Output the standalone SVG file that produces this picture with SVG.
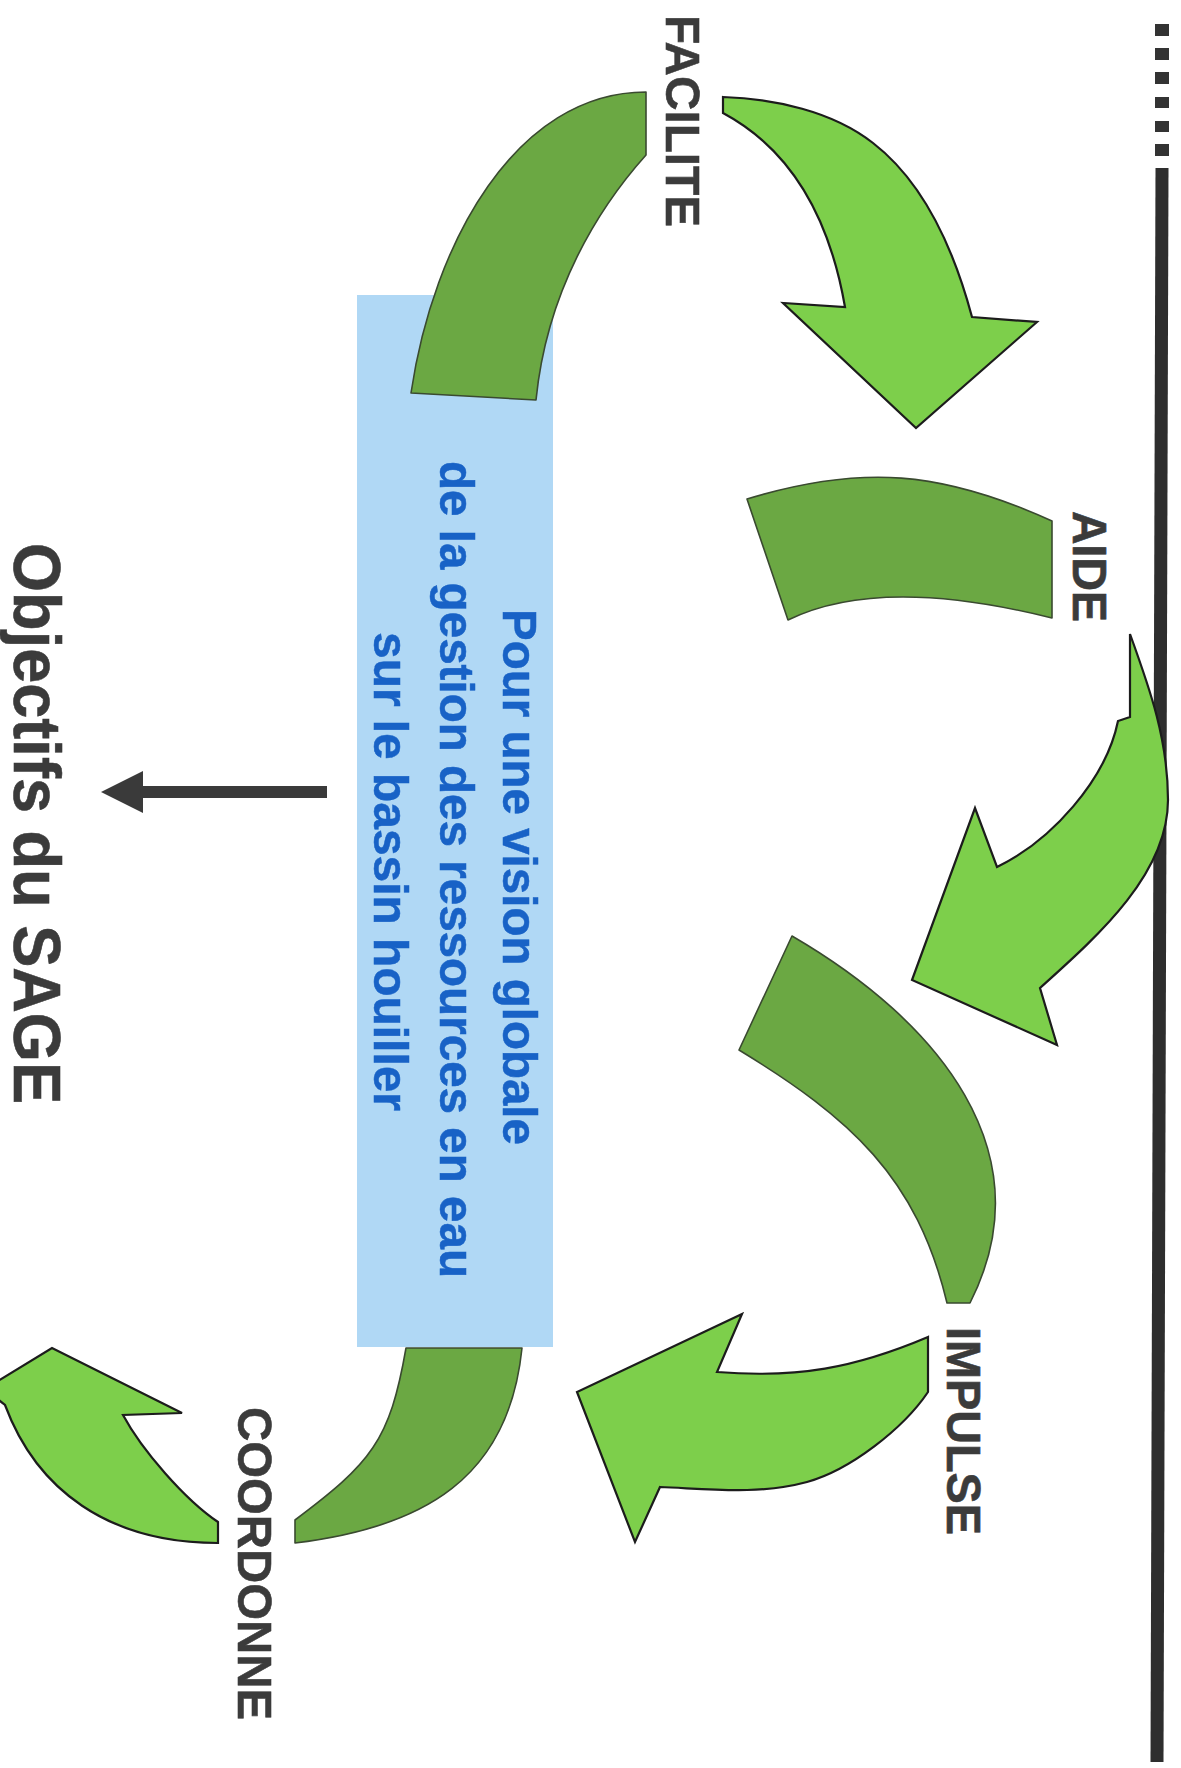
<svg xmlns="http://www.w3.org/2000/svg" width="1181" height="1768" viewBox="0 0 1181 1768">
<style>
.band{fill:#6ba843;stroke:#3a4a30;stroke-width:1.6;stroke-linejoin:round}
.arrow{fill:#7dcf4b;stroke:#1c1c1c;stroke-width:2.2;stroke-linejoin:miter}
.lbl{font-family:"Liberation Sans",Arial,sans-serif;font-weight:bold;font-size:49px;fill:#3b3b3b;stroke:#3b3b3b;stroke-width:0.6}
.box{fill:#b0d8f5}
.boxtxt{font-family:"Liberation Sans",Arial,sans-serif;font-weight:bold;font-size:49px;fill:#1862c6;stroke:#1862c6;stroke-width:0.5}
.title{font-family:"Liberation Sans",Arial,sans-serif;font-weight:bold;font-size:67px;fill:#3b3b3b;stroke:#3b3b3b;stroke-width:0.6}
.rule{stroke:#2e2e2e;stroke-width:13;fill:none}
.dash{fill:#333}
</style>
<rect width="1181" height="1768" fill="#ffffff"/>

<g id="center-box">
<rect class="box" x="357" y="295" width="196" height="1052"/>
<text class="boxtxt" transform="translate(503,609) rotate(90)" textLength="536" lengthAdjust="spacingAndGlyphs">Pour une vision globale</text>
<text class="boxtxt" transform="translate(440,461) rotate(90)" textLength="817" lengthAdjust="spacingAndGlyphs">de la gestion des ressources en eau</text>
<text class="boxtxt" transform="translate(374,632) rotate(90)" textLength="479" lengthAdjust="spacingAndGlyphs">sur le bassin houiller</text>
</g>

<g id="facilite">
<path class="band" d="M646,92 C516,92 433,243 411,393 L536,400 C547,290 599,207.5 646,155 Z"/>
<text class="lbl" transform="translate(666,15) rotate(90)" textLength="212" lengthAdjust="spacingAndGlyphs">FACILITE</text>
</g>

<g id="aide">
<path class="band" d="M747,499 C862,464 942,471 1052,521 L1052,618 Q880,575 788,620 Z"/>
<text class="lbl" transform="translate(1073,511) rotate(90)" textLength="111" lengthAdjust="spacingAndGlyphs">AIDE</text>
</g>

<g id="impulse">
<path class="band" d="M792,936 C938,1021 1046.5,1151.7 970,1303 L947,1303 C917,1177 850,1117.6 739,1050 Z"/>
<text class="lbl" transform="translate(947,1327) rotate(90)" textLength="208" lengthAdjust="spacingAndGlyphs">IMPULSE</text>
</g>

<g id="coordonne">
<path class="band" d="M406,1348 L522,1348 C509,1478 424,1527.5 295,1543 L295,1520 C371,1463 389.9,1441.1 406,1348 Z"/>
<text class="lbl" transform="translate(238,1407) rotate(90)" textLength="313" lengthAdjust="spacingAndGlyphs">COORDONNE</text>
</g>

<g id="objectifs">
<text class="title" transform="translate(14,543) rotate(90)" textLength="561" lengthAdjust="spacingAndGlyphs">Objectifs du SAGE</text>
</g>

<g id="rule">
<rect class="dash" x="1155" y="24" width="14" height="12"/>
<rect class="dash" x="1155" y="48" width="14" height="12"/>
<rect class="dash" x="1155" y="72" width="14" height="12"/>
<rect class="dash" x="1155" y="97" width="14" height="11"/>
<rect class="dash" x="1155" y="121" width="14" height="11"/>
<rect class="dash" x="1155" y="144" width="14" height="12"/>
<line class="rule" x1="1162" y1="168" x2="1157" y2="1762"/>
</g>

<g id="connectors">
<path class="arrow" d="M723,97 C775,99 832,111 873,143 C926,184 954.6,252 972,317 L1037,322 L916,428 L783,303 L845,307 C828,209 784.6,146 723,113 Z"/>
<path class="arrow" d="M1130,634 C1150.4,690.4 1168,740 1168,800 C1168,875 1095.5,938 1040,988 L1057,1045 L912,980 L975,808 L997,867 C1051,841 1106,780 1118,721 L1130,717 Z"/>
<path class="arrow" d="M928,1337 C854.4,1368.2 797,1378.4 717,1372 L742,1314 L577,1392 L635,1542 L660,1487 C710,1489 759,1495 807,1482 C850,1470 903,1429 928,1392 Z"/>
<path class="arrow" d="M218,1543 C108,1543 36.5,1489.6 5,1405 L-15,1389 L52,1348 L182,1413 L123,1415 C141.8,1450 184.8,1499.6 218,1522 Z"/>
<line x1="327" y1="792" x2="140" y2="792" stroke="#3a3a3a" stroke-width="12"/>
<polygon points="101,792 143,771 143,813" fill="#3a3a3a"/>
</g>
</svg>
